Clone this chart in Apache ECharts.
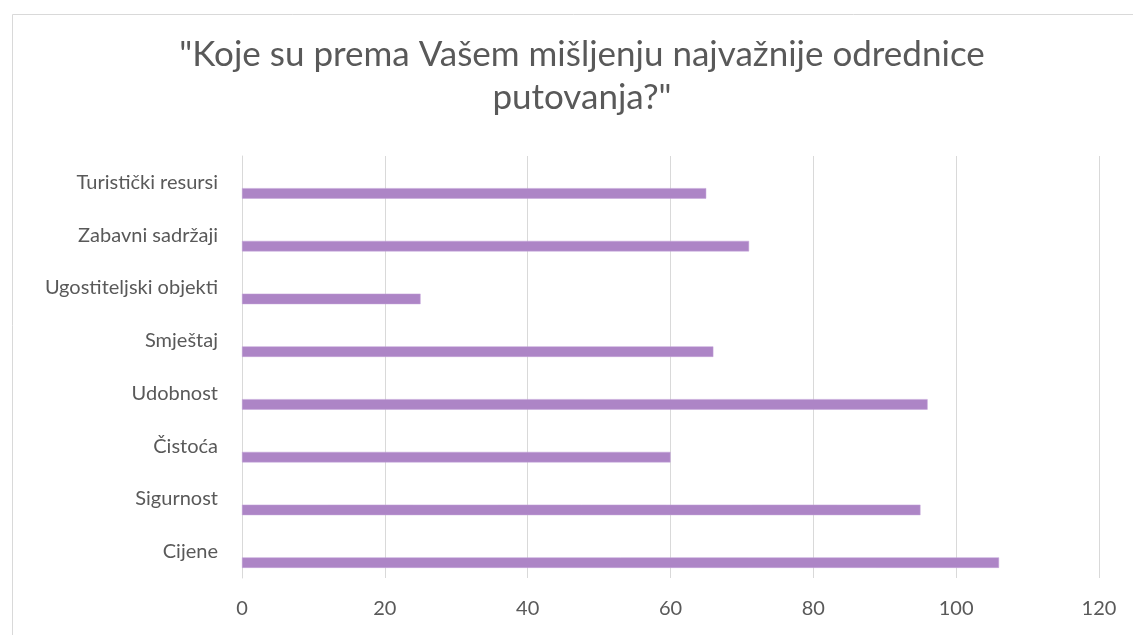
<!DOCTYPE html>
<html>
<head>
<meta charset="utf-8">
<script src="https://cdn.jsdelivr.net/npm/echarts@6/dist/echarts.min.js"></script>
<style>
    html, body { margin: 0; padding: 0; background: #fff; }
    #chart { width: 1133px; height: 635px; }
</style>
</head>
<body>
<div id="chart"></div>
<script>
// categories, bottom to top
const categories = ['Cijene', 'Sigurnost', 'Čistoća', 'Udobnost', 'Smještaj', 'Ugostiteljski objekti', 'Zabavni sadržaji', 'Turistički resursi'];
const values = [106, 95, 60, 96, 66, 25, 71, 65];
const emptyValues = [null, null, null, null, null, null, null, null];
const xTicks = { min: 0, max: 120, interval: 20 };

const textColor = '#595959';
const gridColor = '#d9d9d9';
const font = 'Lato';

let chart = echarts.init(document.getElementById('chart'));
chart.setOption({
    animation: false,
    title: {
        text: '"Koje su prema Vašem mišljenju najvažnije odrednice\nputovanja?"',
        left: 577,
        textAlign: 'center',
        top: 28,
        textStyle: {
            color: textColor,
            fontFamily: font,
            fontSize: 35,
            fontWeight: 'normal',
            lineHeight: 43
        }
    },
    graphic: [{
        type: 'rect',
        left: 10,
        top: 12,
        shape: { width: 1300, height: 800 },
        style: { fill: 'none', stroke: gridColor, lineWidth: 1 },
        silent: true
    }],
    grid: {
        left: 242,
        right: 34,
        top: 156,
        bottom: 57,
        outerBoundsMode: 'none'
    },
    xAxis: {
        type: 'value',
        min: xTicks.min,
        max: xTicks.max,
        interval: xTicks.interval,
        axisLine: { show: false },
        axisTick: { show: false },
        splitLine: { lineStyle: { color: gridColor, width: 1 } },
        axisLabel: { color: textColor, fontFamily: font, fontSize: 20, margin: 21 }
    },
    yAxis: {
        type: 'category',
        data: categories,
        axisLine: { show: true, lineStyle: { color: gridColor } },
        axisTick: { show: false },
        axisLabel: { color: textColor, fontFamily: font, fontSize: 20, margin: 24 }
    },
    series: [
        {
            name: 'empty',
            type: 'bar',
            data: emptyValues,
            barWidth: 10.5,
            barGap: '110%'
        },
        {
            name: 'Broj odgovora',
            type: 'bar',
            data: values,
            barWidth: 10.5,
            barGap: '110%',
            itemStyle: { color: '#ad85c6', borderColor: '#c3a3d8', borderWidth: 0.5 }
        }
    ]
});
</script>
</body>
</html>
